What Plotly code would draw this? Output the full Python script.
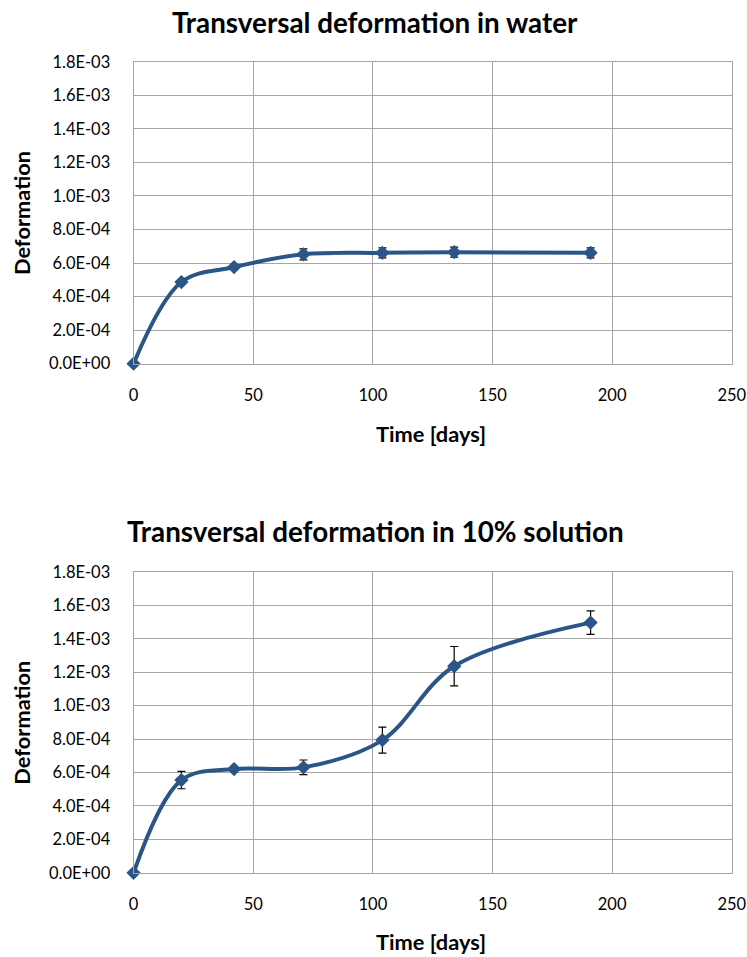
import plotly.graph_objects as go

# Data
days = [0, 20, 42, 71, 104, 134, 191]
water = [0.0, 4.87e-4, 5.76e-4, 6.52e-4, 6.61e-4, 6.65e-4, 6.61e-4]
water_err = [0.0, 0.0, 0.0, 0.33e-4, 0.3e-4, 0.3e-4, 0.3e-4]
solution = [0.0, 5.55e-4, 6.21e-4, 6.31e-4, 7.94e-4, 1.236e-3, 1.497e-3]
solution_err = [0.0, 0.52e-4, 0.0, 0.44e-4, 0.78e-4, 1.18e-4, 0.7e-4]
titles = ["Transversal deformation in water", "Transversal deformation in 10% solution"]
x_ticks = [0, 50, 100, 150, 200, 250]
y_ticks = [i * 2e-4 for i in range(10)]
y_ticklabels = ["0.0E+00", "2.0E-04", "4.0E-04", "6.0E-04", "8.0E-04",
                "1.0E-03", "1.2E-03", "1.4E-03", "1.6E-03", "1.8E-03"]

W, H = 762, 972
LINE = "#2b5586"
GRID = "#a6a6a6"
FONT = "Lato"

# map target picture pixels to figure pixels (observed render transform)
def ux(p):
    return (p - 2.6) / 0.98

def uy(p):
    return (p - 8.0) / 0.983

def px(p):
    return ux(p) / W

def py(p):
    return 1 - uy(p) / H

fig = go.Figure()

panels = [
    dict(vals=water, err=water_err, top=60, bot=363, title_y=21, xt_y=433, ax="", title=titles[0]),
    dict(vals=solution, err=solution_err, top=572, bot=874, title_y=531, xt_y=943, ax="2", title=titles[1]),
]

x0, x1 = 132, 734
layout = dict(width=W, height=H, margin=dict(l=0, r=0, t=0, b=0),
              paper_bgcolor="white", plot_bgcolor="white", showlegend=False,
              font=dict(family=FONT, color="#000000"))
annotations = []
for p in panels:
    ax = p["ax"]
    fig.add_trace(go.Scatter(
        x=days, y=p["vals"], mode="lines+markers",
        line=dict(color=LINE, width=4, shape="spline", smoothing=1.0),
        marker=dict(symbol="diamond", size=11, color=LINE),
        error_y=dict(type="data", array=p["err"], visible=True, color="#000000",
                     thickness=1.2, width=4),
        cliponaxis=False,
        xaxis="x" + ax, yaxis="y" + ax,
    ))
    common = dict(showgrid=True, gridcolor=GRID, gridwidth=1, zeroline=False,
                  showline=True, linecolor=GRID, linewidth=1, mirror=True, ticks="",
                  ticklabeloverflow="allow",
                  tickfont=dict(family=FONT, size=16.5, color="#000000"))
    layout["xaxis" + ax] = dict(common, domain=[px(x0), px(x1)], range=[0, 250],
                               tickvals=x_ticks, ticklabelstandoff=16,
                               anchor="y" + ax)
    layout["yaxis" + ax] = dict(common, domain=[py(p["bot"]), py(p["top"])], range=[0, 1.8e-3],
                               tickvals=y_ticks, ticktext=y_ticklabels, ticklabelstandoff=19,
                               anchor="x" + ax)
    annotations.append(dict(text="<b>%s</b>" % p["title"], x=px(375), y=py(p["title_y"]),
                            xref="paper", yref="paper", showarrow=False,
                            xanchor="center", yanchor="middle",
                            font=dict(family=FONT, size=27.8, color="#000000")))
    annotations.append(dict(text="<b>Time [days]</b>", x=px(431), y=py(p["xt_y"]),
                            xref="paper", yref="paper", showarrow=False,
                            xanchor="center", yanchor="middle",
                            font=dict(family=FONT, size=21.8, color="#000000")))
    annotations.append(dict(text="<b>Deformation</b>", x=px(19), y=py((p["top"] + p["bot"]) / 2),
                            xref="paper", yref="paper", showarrow=False, textangle=-90,
                            xanchor="center", yanchor="middle",
                            font=dict(family=FONT, size=21.8, color="#000000")))

layout["annotations"] = annotations
fig.update_layout(**layout)
fig.write_html("out.html")
